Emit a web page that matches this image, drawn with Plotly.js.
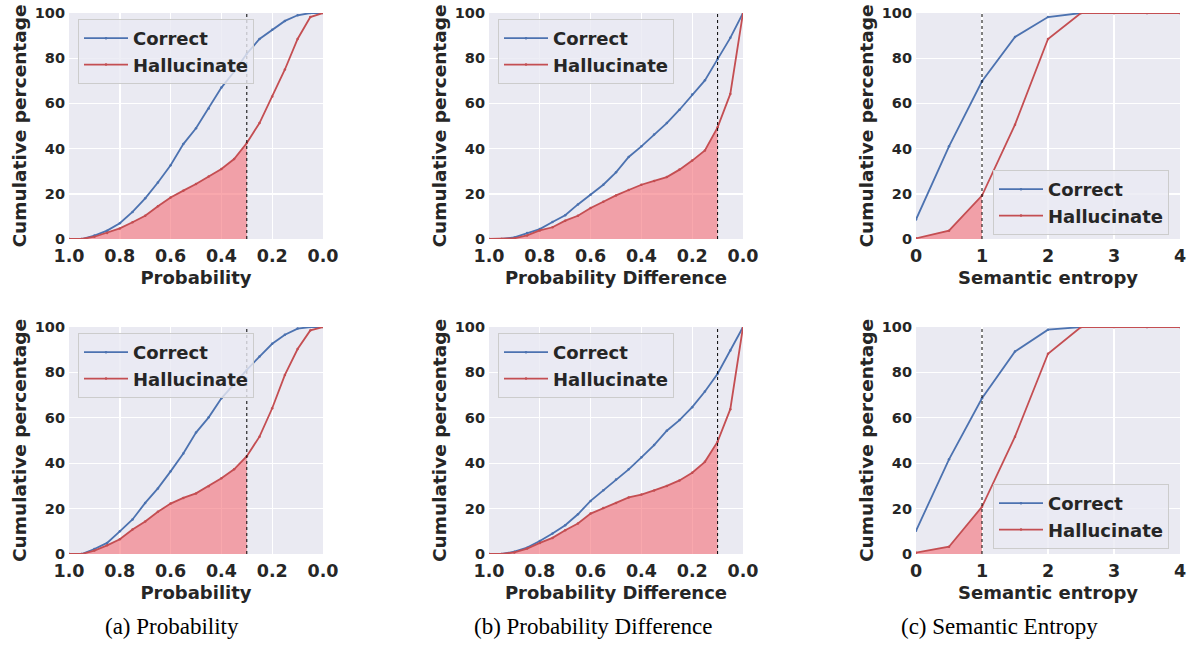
<!DOCTYPE html>
<html>
<head>
<meta charset="utf-8">
<script src="https://cdn.plot.ly/plotly-3.0.1.min.js"></script>
<style>html,body{margin:0;padding:0;background:#fff;}#chart{width:1194px;height:659px;}</style>
</head>
<body>
<div id="chart"></div>
<script>
// ---------- data ----------
const probX = [1.0,0.95,0.9,0.85,0.8,0.75,0.7,0.65,0.6,0.55,0.5,0.45,0.4,0.35,0.3,0.25,0.2,0.15,0.1,0.05,0.0];
const entX = [0,0.5,1,1.5,2,2.5,3,3.5,4];

// top row
const probCorrectTop = [0,0,1.5,3.7,7,12,18,25,32.6,42,49,57.7,67,74,82,88.5,92.6,96.5,99,100,100];
const probHalluTop   = [0,0,1,2.7,4.7,7.4,10.3,14.5,18.4,21.4,24.3,27.7,31,35.4,42.5,51.3,63,75,88.5,98.2,100];
const diffCorrectTop = [0,0,0.7,2.7,4.4,7.5,10.5,15.3,19.6,24,29.5,36.3,41,46.2,51.3,57.2,63.9,70.2,79.6,89,100];
const diffHalluTop   = [0,0,0.3,1.6,3.8,5.2,8.1,10.3,13.7,16.5,19.3,21.7,24,25.7,27.4,30.7,34.7,39.2,49.4,64.2,100];
const entCorrectTop  = [8.6,41,69.8,89.4,98.2,100,100,100,100];
const entHalluTop    = [0.3,3.7,19.2,50.6,88.5,100,100,100,100];

// bottom row
const probCorrectBot = [0,0,2.2,4.9,10,15.2,22.5,28.9,36.4,44.3,53.5,60.2,68.6,75,81.1,87,92.6,96.6,99.3,100,100];
const probHalluBot   = [0,0,1.5,3.8,6.5,10.8,14.3,18.6,22.2,24.7,26.7,29.9,33.4,37.3,43.1,51.7,64.2,78.9,90.3,98.5,100];
const diffCorrectBot = [0,0,1,2.8,5.7,9,12.7,17.5,23.4,28.1,32.8,37.3,42.6,48,54.3,59,64.7,71.6,79.4,89.7,100];
const diffHalluBot   = [0,0,0.7,2.4,4.9,7.1,10.5,13.4,17.8,20.3,22.5,24.9,26.2,28,30,32.4,35.8,40.6,49.5,63.8,100];
const entCorrectBot  = [10.2,41.7,68.6,89.2,98.8,100,100,100,100];
const entHalluBot    = [0.6,3.2,20.8,51.7,88.2,100,100,100,100];

const thresholds = [0.3, 0.1, 1];
const xTitles = ["Probability", "Probability Difference", "Semantic entropy"];
const captions = ["(a) Probability", "(b) Probability Difference", "(c) Semantic Entropy"];
const seriesNames = ["Correct", "Hallucinate"];

// ---------- style ----------
const BLUE = "#4C72B0", RED = "#C44E52", FILL = "rgba(245,115,122,0.62)";
const TXT = "#262626";
const FONT = "DejaVu Sans";
const W = 1194, H = 659;
const colPx = [[69,323],[489,743],[916,1180]];
const rowPx = [[13,239],[327,554]];
const legendPos = [
  [[78,19],[498,19],[993,170]],
  [[78,333],[498,333],[993,484]]
];

const panels = [
  {x: probX, c: probCorrectTop, h: probHalluTop, col:0, row:0},
  {x: probX, c: diffCorrectTop, h: diffHalluTop, col:1, row:0},
  {x: entX,  c: entCorrectTop,  h: entHalluTop,  col:2, row:0},
  {x: probX, c: probCorrectBot, h: probHalluBot, col:0, row:1},
  {x: probX, c: diffCorrectBot, h: diffHalluBot, col:1, row:1},
  {x: entX,  c: entCorrectBot,  h: entHalluBot,  col:2, row:1}
];

const traces = [];
const layout = {
  width: W, height: H,
  margin: {l:0, r:0, t:0, b:0},
  paper_bgcolor: "#ffffff",
  plot_bgcolor: "#EAEAF2",
  showlegend: true,
  shapes: [],
  annotations: [],
  font: {family: FONT, color: TXT}
};

panels.forEach((p, i) => {
  const n = i + 1;
  const xa = n === 1 ? "x" : "x" + n;
  const ya = n === 1 ? "y" : "y" + n;
  const lg = n === 1 ? "legend" : "legend" + n;
  const thr = thresholds[p.col];
  const isEnt = p.col === 2;

  // fill region under hallucinate curve up to threshold
  const fx = [], fy = [];
  p.x.forEach((v, k) => {
    const inside = isEnt ? v <= thr + 1e-9 : v >= thr - 1e-9;
    if (inside) { fx.push(v); fy.push(p.h[k]); }
  });
  traces.push({x: fx, y: fy, xaxis: xa, yaxis: ya, type: "scatter", mode: "none",
    fill: "tozeroy", fillcolor: FILL, showlegend: false, hoverinfo: "skip"});

  traces.push({x: p.x, y: p.c, xaxis: xa, yaxis: ya, type: "scatter", mode: "lines+markers",
    name: seriesNames[0], legend: lg, line: {color: BLUE, width: 1.8}, marker: {color: BLUE, size: 2.5}});
  traces.push({x: p.x, y: p.h, xaxis: xa, yaxis: ya, type: "scatter", mode: "lines+markers",
    name: seriesNames[1], legend: lg, line: {color: RED, width: 1.8}, marker: {color: RED, size: 2.5}});

  const [x0, x1] = colPx[p.col];
  const [y0, y1] = rowPx[p.row];
  const xKey = n === 1 ? "xaxis" : "xaxis" + n;
  const yKey = n === 1 ? "yaxis" : "yaxis" + n;

  layout[xKey] = {
    domain: [x0 / W, x1 / W],
    anchor: ya,
    range: isEnt ? [0, 4] : [1.0, 0.0],
    tickvals: isEnt ? [0,1,2,3,4] : [1.0,0.8,0.6,0.4,0.2,0.0],
    ticktext: isEnt ? ["0","1","2","3","4"] : ["1.0","0.8","0.6","0.4","0.2","0.0"],
    showgrid: true, gridcolor: "#ffffff", gridwidth: 1.4,
    zeroline: false, showline: false, ticks: "",
    ticklabelstandoff: 4,
    tickfont: {family: FONT, size: 17.5, color: TXT, weight: "bold"},
    title: {text: xTitles[p.col], font: {family: FONT, size: 18, color: TXT, weight: "bold"}, standoff: 6}
  };
  layout[yKey] = {
    domain: [1 - y1 / H, 1 - y0 / H],
    anchor: xa,
    range: [0, 100],
    tickvals: [0,20,40,60,80,100],
    showgrid: true, gridcolor: "#ffffff", gridwidth: 1.4,
    zeroline: false, showline: false, ticks: "",
    ticklabelstandoff: 3,
    tickfont: {family: FONT, size: 14.5, color: TXT, weight: "bold"},
    title: {text: "Cumulative percentage", font: {family: FONT, size: 18.5, color: TXT, weight: "bold"}, standoff: 3}
  };

  const [lx, ly] = legendPos[p.row][p.col];
  layout[lg] = {
    x: lx / W, y: 1 - ly / H, xanchor: "left", yanchor: "top",
    xref: "paper", yref: "paper",
    bgcolor: "rgba(234,234,242,0.8)", bordercolor: "#CCCCCC", borderwidth: 1,
    font: {family: FONT, size: 18, color: TXT, weight: "bold"},
    itemwidth: 44
  };

  layout.shapes.push({type: "line", xref: xa, yref: ya, x0: thr, x1: thr, y0: 0, y1: 100,
    line: {color: "#000000", width: 1, dash: "dot"}});
});

const capX = [172, 593, 999];
captions.forEach((t, k) => {
  layout.annotations.push({text: t, x: capX[k] / W, y: 1 - 626 / H, xref: "paper", yref: "paper",
    showarrow: false, xanchor: "center", yanchor: "middle",
    font: {family: "Liberation Serif", size: 23, color: "#000000"}});
});

Plotly.newPlot("chart", traces, layout, {displayModeBar: false, staticPlot: true});
</script>
</body>
</html>
